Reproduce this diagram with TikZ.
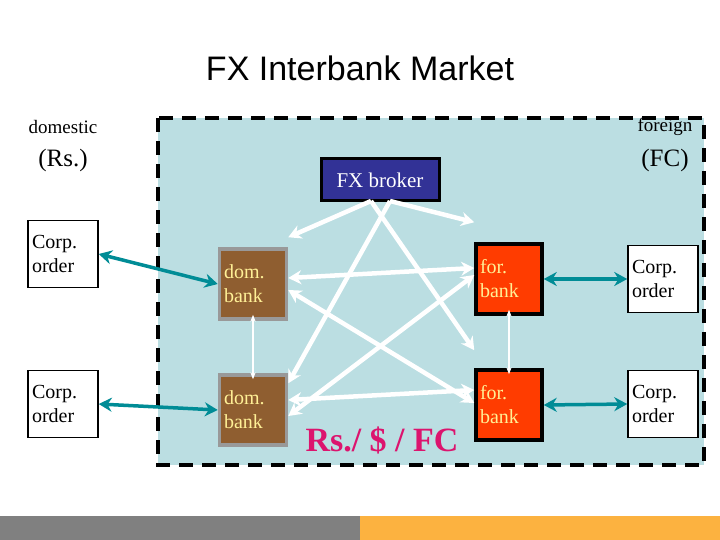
\documentclass[tikz,border=0pt]{standalone}
\usepackage{fontspec}
\setmainfont{Liberation Serif}
\newfontfamily\sans{Liberation Sans}
\usetikzlibrary{arrows.meta}
\definecolor{domc}{RGB}{143,94,48}
\definecolor{forc}{RGB}{255,60,0}
\definecolor{txty}{RGB}{255,240,150}
\definecolor{teal2}{RGB}{0,140,150}
\definecolor{bg}{RGB}{187,222,226}
\definecolor{brc}{RGB}{50,50,150}
\definecolor{rsc}{RGB}{220,20,110}
\definecolor{grayb}{RGB}{128,128,128}
\definecolor{orb}{RGB}{252,178,64}
\begin{document}
\begin{tikzpicture}[x=1pt,y=-1pt,
 box/.style={draw=black,line width=1.5pt,fill=white,minimum width=70,minimum height=67,align=left,font=\fontsize{20}{24}\selectfont,inner sep=3pt,text width=62},
 dom/.style={draw=gray!80,line width=3.5pt,fill=domc,text=txty,minimum width=67,minimum height=70,align=left,font=\fontsize{20}{24}\selectfont,text width=58,inner sep=2pt},
 frb/.style={draw=black,line width=3.5pt,fill=forc,text=txty,minimum width=66,minimum height=70,align=left,font=\fontsize{20}{24}\selectfont,text width=58,inner sep=2pt},
 wa/.style={draw=white,line width=4.5pt,-{Stealth[length=13pt,width=14pt]}},
 wd/.style={draw=white,line width=4.5pt,{Stealth[length=13pt,width=14pt]}-{Stealth[length=13pt,width=14pt]}},
 ta/.style={draw=teal2,line width=3.5pt,{Stealth[length=13pt,width=14pt]}-{Stealth[length=13pt,width=14pt]}},
 thin/.style={draw=white,line width=1.5pt,{Stealth[length=7pt]}-{Stealth[length=7pt]}}]
\useasboundingbox (0,0) rectangle (720,540);
\fill[white] (0,0) rectangle (720,540);
\fill[grayb] (0,516) rectangle (360,540);
\fill[orb] (360,516) rectangle (720,540);
\node[font=\sans\fontsize{34}{36}\selectfont] (title) at (360,68) {FX Interbank Market};
\draw[fill=bg,line width=4.5pt,dash pattern=on 14pt off 9pt] (158,118) rectangle (704,465);
\node[font=\fontsize{19}{20}\selectfont] (dl) at (63,127) {domestic};
\node[font=\fontsize{25}{26}\selectfont] (dr) at (63,160) {(Rs.)};
\node[font=\fontsize{19}{20}\selectfont] (fl) at (665,127) {foreign};
\node[font=\fontsize{25}{26}\selectfont] (fr) at (665,160) {(FC)};
\node[draw=black,line width=3pt,fill=brc,text=white,font=\fontsize{21}{22}\selectfont,minimum width=118,minimum height=42] (br) at (380,180) {FX broker};
\node[dom] (d1) at (253,284) {dom.\\bank};
\node[dom] (d2) at (253,410) {dom.\\bank};
\node[frb] (f1) at (509,279) {for.\\bank};
\node[frb] (f2) at (509,405) {for.\\bank};
\node[box] (c1) at (63,254) {Corp.\\order};
\node[box] (c2) at (63,404) {Corp.\\order};
\node[box] (c3) at (663,279) {Corp.\\order};
\node[box] (c4) at (663,404) {Corp.\\order};
\node[text=rsc,font=\bfseries\fontsize{34}{36}\selectfont] (rs) at (382,440) {Rs./ \$ / FC};
\coordinate (b1) at (371,201);
\coordinate (b2) at (390,201);
\draw[wa] (b1) -- ([yshift=10pt]d1.north east);
\draw[wa] (b2) -- ([yshift=20pt]f1.north west);
\draw[wa] (b2) -- ([yshift=-10pt]d2.north east);
\draw[wa] (b1) -- ([yshift=18pt]f2.north west);
\draw[wd] ([yshift=6pt]d1.east) -- ([yshift=11pt]f1.west);
\draw[wd] ([yshift=10pt]d2.east) -- ([yshift=15pt]f2.west);
\draw[wd] ([yshift=-6pt]d1.east) -- ([yshift=2pt]f2.west);
\draw[wd] ([yshift=-6pt]d2.east) -- ([yshift=4pt]f1.west);
\draw[thin] ([yshift=6pt]d1.south) -- ([yshift=-6pt]d2.north);
\draw[thin] ([yshift=6pt]f1.south) -- ([yshift=-6pt]f2.north);
\draw[ta] (c1.east) -- (d1.west);
\draw[ta] (c2.east) -- (d2.west);
\draw[ta] (c3.west) -- (f1.east);
\draw[ta] (c4.west) -- (f2.east);
\end{tikzpicture}
\end{document}
